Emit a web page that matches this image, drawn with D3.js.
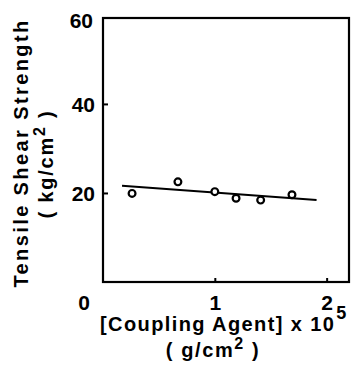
<!DOCTYPE html>
<html>
<head>
<meta charset="utf-8">
<script src="https://cdn.jsdelivr.net/npm/d3@7"></script>
<style>
  html, body { margin: 0; padding: 0; background: #fff; }
  svg text { font-family: "Liberation Sans", Arial, sans-serif; font-weight: bold; fill: #000; }
</style>
</head>
<body>
<svg id="chart" width="364" height="374"></svg>
<script>
// ---- data ----
const couplingAgent = [0.26, 0.67, 1.0, 1.19, 1.41, 1.69];   // x 10^5 g/cm2
const shearStrength = [19.9, 22.5, 20.3, 18.8, 18.4, 19.6];  // kg/cm2
const fitX = [0.17, 1.91];
const fitY = [21.6, 18.4];
const xTicks = [1, 2];
const yTicks = [20, 40];
const xOriginLabel = "0";
const yTopLabel = "60";

// ---- layout ----
const svg = d3.select("#chart");
const mLeft = 103, mRight = 349, mTop = 18, mBottom = 282;
const x = d3.scaleLinear().domain([0, 2.2]).range([mLeft, mRight]);
const y = d3.scaleLinear().domain([0, 59.3]).range([mBottom, mTop]);

// frame
svg.append("rect")
  .attr("x", mLeft).attr("y", mTop)
  .attr("width", mRight - mLeft).attr("height", mBottom - mTop)
  .attr("fill", "none").attr("stroke", "#000").attr("stroke-width", 2.2);

// y axis (inward ticks)
const yAxis = d3.axisLeft(y).tickValues(yTicks).tickSizeInner(-5).tickSizeOuter(0).tickPadding(8);
const gy = svg.append("g").attr("transform", `translate(${mLeft},0)`).call(yAxis);
gy.select(".domain").remove();
gy.selectAll(".tick line").attr("stroke", "#000").attr("stroke-width", 2);
gy.selectAll(".tick text").style("font-size", "21px").attr("dy", "0.36em");

// x axis (inward ticks)
const xAxis = d3.axisBottom(x).tickValues(xTicks).tickFormat(d3.format("d")).tickSizeInner(-4).tickSizeOuter(0).tickPadding(13);
const gx = svg.append("g").attr("transform", `translate(0,${mBottom})`).call(xAxis);
gx.select(".domain").remove();
gx.selectAll(".tick line").attr("stroke", "#000").attr("stroke-width", 2);
gx.selectAll(".tick text").style("font-size", "21px");

// corner labels
svg.append("text").attr("x", 84).attr("y", 310).attr("text-anchor", "middle")
  .style("font-size", "21px").text(xOriginLabel);
svg.append("text").attr("x", 93).attr("y", 28).attr("text-anchor", "end")
  .style("font-size", "21px").text(yTopLabel);

// fit line
svg.append("line")
  .attr("x1", x(fitX[0])).attr("y1", y(fitY[0]))
  .attr("x2", x(fitX[1])).attr("y2", y(fitY[1]))
  .attr("stroke", "#000").attr("stroke-width", 2);

// data points
svg.selectAll("circle.pt").data(couplingAgent).enter().append("circle")
  .attr("class", "pt")
  .attr("cx", d => x(d))
  .attr("cy", (d, i) => y(shearStrength[i]))
  .attr("r", 3.4)
  .attr("fill", "#fff").attr("stroke", "#000").attr("stroke-width", 2.2);

// x title
const xt1 = svg.append("text").attr("x", 100).attr("y", 331)
  .style("font-size", "20px").style("letter-spacing", "1.4px");
xt1.append("tspan").text("[Coupling  Agent] x 10");
xt1.append("tspan").attr("dx", 1).attr("dy", -12).style("font-size", "18px").text("5");
const xt2 = svg.append("text").attr("x", 213).attr("y", 357).attr("text-anchor", "middle")
  .style("font-size", "20px").style("letter-spacing", "1.6px");
xt2.append("tspan").text("( g/cm");
xt2.append("tspan").attr("dy", -8).style("font-size", "16px").text("2");
xt2.append("tspan").attr("dy", 8).text(" )");

// y title
svg.append("text").attr("transform", "translate(28,153) rotate(-90)")
  .attr("text-anchor", "middle").style("font-size", "20px").style("letter-spacing", "2.4px")
  .text("Tensile  Shear  Strength");
const yt2 = svg.append("text").attr("transform", "translate(53,164) rotate(-90)")
  .attr("text-anchor", "middle").style("font-size", "20px").style("letter-spacing", "1.8px");
yt2.append("tspan").text("( kg/cm");
yt2.append("tspan").attr("dy", -8).style("font-size", "16px").text("2");
yt2.append("tspan").attr("dy", 8).text(" )");
</script>
</body>
</html>
